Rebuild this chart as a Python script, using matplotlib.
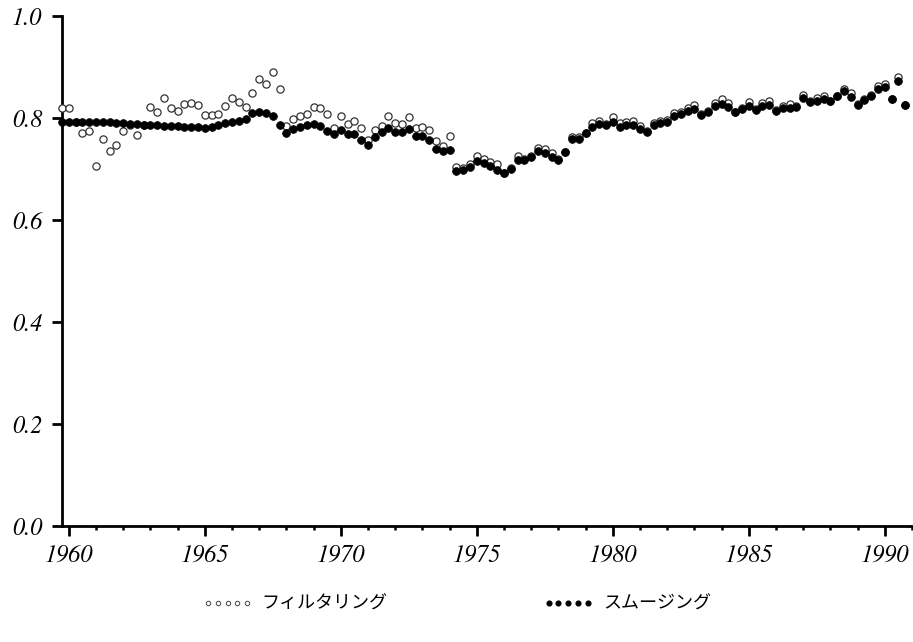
"""Filtered vs smoothed state estimate, quarterly 1959Q4-1990Q4."""

import matplotlib

matplotlib.use("Agg")
import matplotlib.pyplot as plt
from matplotlib.lines import Line2D
from matplotlib.ticker import MultipleLocator
import numpy as np

# Quarterly series, first observation at 1959.75
START_YEAR = 1959.75
STEP = 0.25

filtered = [
    0.819, 0.819, 0.793, 0.770, 0.774, 0.706, 0.758, 0.735, 0.747, 0.774,
    0.786, 0.766, 0.787, 0.821, 0.812, 0.839, 0.819, 0.813, 0.827, 0.829,
    0.825, 0.805, 0.806, 0.807, 0.823, 0.840, 0.831, 0.821, 0.850, 0.876,
    0.866, 0.891, 0.856, 0.784, 0.799, 0.803, 0.807, 0.821, 0.819, 0.807,
    0.780, 0.803, 0.788, 0.795, 0.780, 0.757, 0.776, 0.784, 0.804, 0.790,
    0.788, 0.801, 0.780, 0.782, 0.776, 0.754, 0.746, 0.764, 0.704, 0.701,
    0.709, 0.725, 0.720, 0.714, 0.710, 0.693, 0.701, 0.726, 0.719, 0.725,
    0.742, 0.739, 0.731, 0.719, 0.734, 0.763, 0.763, 0.771, 0.790, 0.795,
    0.789, 0.801, 0.790, 0.793, 0.794, 0.785, 0.774, 0.791, 0.794, 0.796,
    0.809, 0.811, 0.819, 0.826, 0.807, 0.813, 0.830, 0.837, 0.830, 0.812,
    0.820, 0.832, 0.817, 0.829, 0.834, 0.815, 0.823, 0.827, 0.823, 0.845,
    0.834, 0.839, 0.843, 0.834, 0.844, 0.857, 0.850, 0.827, 0.837, 0.845,
    0.863, 0.867, 0.837, 0.881, 0.825,
]

smoothed = [
    0.793, 0.793, 0.792, 0.793, 0.793, 0.793, 0.793, 0.792, 0.791, 0.790,
    0.789, 0.788, 0.787, 0.787, 0.787, 0.785, 0.784, 0.784, 0.783, 0.782,
    0.782, 0.780, 0.782, 0.786, 0.790, 0.793, 0.795, 0.799, 0.809, 0.812,
    0.809, 0.803, 0.786, 0.770, 0.778, 0.782, 0.786, 0.788, 0.784, 0.774,
    0.768, 0.776, 0.768, 0.768, 0.756, 0.748, 0.762, 0.772, 0.780, 0.772,
    0.772, 0.778, 0.764, 0.764, 0.756, 0.739, 0.735, 0.737, 0.696, 0.698,
    0.704, 0.715, 0.711, 0.705, 0.699, 0.692, 0.700, 0.718, 0.718, 0.724,
    0.735, 0.732, 0.724, 0.718, 0.733, 0.759, 0.759, 0.770, 0.782, 0.788,
    0.786, 0.793, 0.783, 0.786, 0.786, 0.778, 0.773, 0.786, 0.790, 0.793,
    0.804, 0.807, 0.814, 0.818, 0.806, 0.811, 0.824, 0.827, 0.822, 0.811,
    0.818, 0.824, 0.816, 0.824, 0.826, 0.814, 0.820, 0.820, 0.822, 0.840,
    0.832, 0.833, 0.837, 0.833, 0.843, 0.852, 0.841, 0.826, 0.836, 0.844,
    0.857, 0.861, 0.837, 0.873, 0.825,
]

x_ticks = [1960, 1965, 1970, 1975, 1980, 1985, 1990]
y_ticks = [0.0, 0.2, 0.4, 0.6, 0.8, 1.0]
labels = ["フィルタリング", "スムージング"]

TICK_FONT = dict(family="STIXGeneral", style="italic", size=17.5)

t = START_YEAR + STEP * np.arange(len(smoothed))

fig = plt.figure(figsize=(9.13, 6.42), dpi=100)
ax = fig.add_axes([62 / 913, 1 - 526 / 642, 850 / 913, 510 / 642])

ax.plot(t, filtered, "o", ms=5.2, mfc="white", mec="#333333", mew=0.9,
        clip_on=False, zorder=3)
ax.plot(t, smoothed, "o", ms=5.6, mfc="black", mec="black", mew=0.5,
        clip_on=False, zorder=4)

ax.set_xlim(1959.75, 1991.0)
ax.set_ylim(0.0, 1.0)
ax.set_xticks(x_ticks)
ax.xaxis.set_minor_locator(MultipleLocator(1))
ax.set_yticks(y_ticks)
ax.set_xticklabels([str(v) for v in x_ticks], fontdict=TICK_FONT)
ax.set_yticklabels([f"{v:.1f}" for v in y_ticks], fontdict=TICK_FONT)

for side in ("top", "right"):
    ax.spines[side].set_visible(False)
for side in ("left", "bottom"):
    ax.spines[side].set_linewidth(2.0)

ax.tick_params(axis="both", which="major", direction="out", width=2.0,
               length=7, pad=6)
ax.tick_params(axis="y", which="major", pad=7)
ax.tick_params(axis="x", which="minor", direction="out", width=1.8, length=3)

# Legend under the plot: five small markers per entry
handles = [
    Line2D([], [], ls="none", marker="o", ms=3.2, mfc="white", mec="#444444",
           mew=0.7),
    Line2D([], [], ls="none", marker="o", ms=3.4, mfc="black", mec="black"),
]
fig.legend(handles, labels, loc="center", bbox_to_anchor=(0.5, 1 - 604 / 642),
           ncol=2, frameon=False, numpoints=5, handlelength=2.8,
           handletextpad=0.5, columnspacing=8.6,
           prop={"family": ["Noto Sans CJK JP", "DejaVu Sans"], "size": 13})

fig.savefig("out.png", dpi=100)
